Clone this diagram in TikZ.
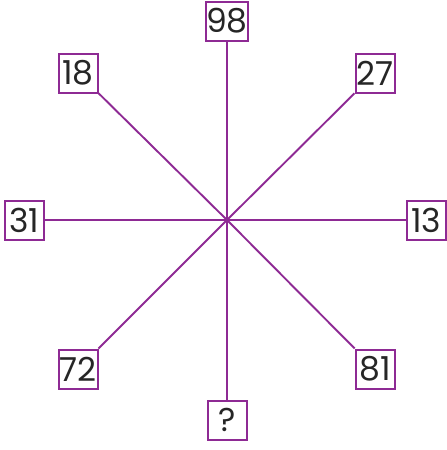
\documentclass[tikz,border=0pt]{standalone}
\usepackage{fontspec}
\setmainfont{Poppins}
\usetikzlibrary{backgrounds}
\definecolor{pur}{RGB}{142,42,148}
\begin{document}
\begin{tikzpicture}[x=1pt,y=-1pt,
  numbox/.style={draw=pur,line width=2pt,fill=white,minimum width=39pt,minimum height=39pt,inner sep=0pt,
    font=\fontsize{33}{33}\selectfont, text=black!85},
  spoke/.style={draw=pur,line width=1.9pt}]
\useasboundingbox (0,0) rectangle (447,450);
\coordinate (c) at (227,220);
\node[numbox] (n98) at (227,21) {98};
\node[numbox] (n18) at (78,73) {18};
\node[numbox] (n27) at (375,73) {27};
\node[numbox] (n31) at (24,220) {31};
\node[numbox] (n13) at (426,220) {13};
\node[numbox] (n72) at (78,369) {72};
\node[numbox] (n81) at (375,369) {81};
\node[numbox] (nq) at (227,420) {?};
\begin{scope}[on background layer]
\foreach \n in {n98,n18,n27,n31,n13,n72,n81,nq}{\draw[spoke] (c) -- (\n);}
\end{scope}
\end{tikzpicture}
\end{document}
